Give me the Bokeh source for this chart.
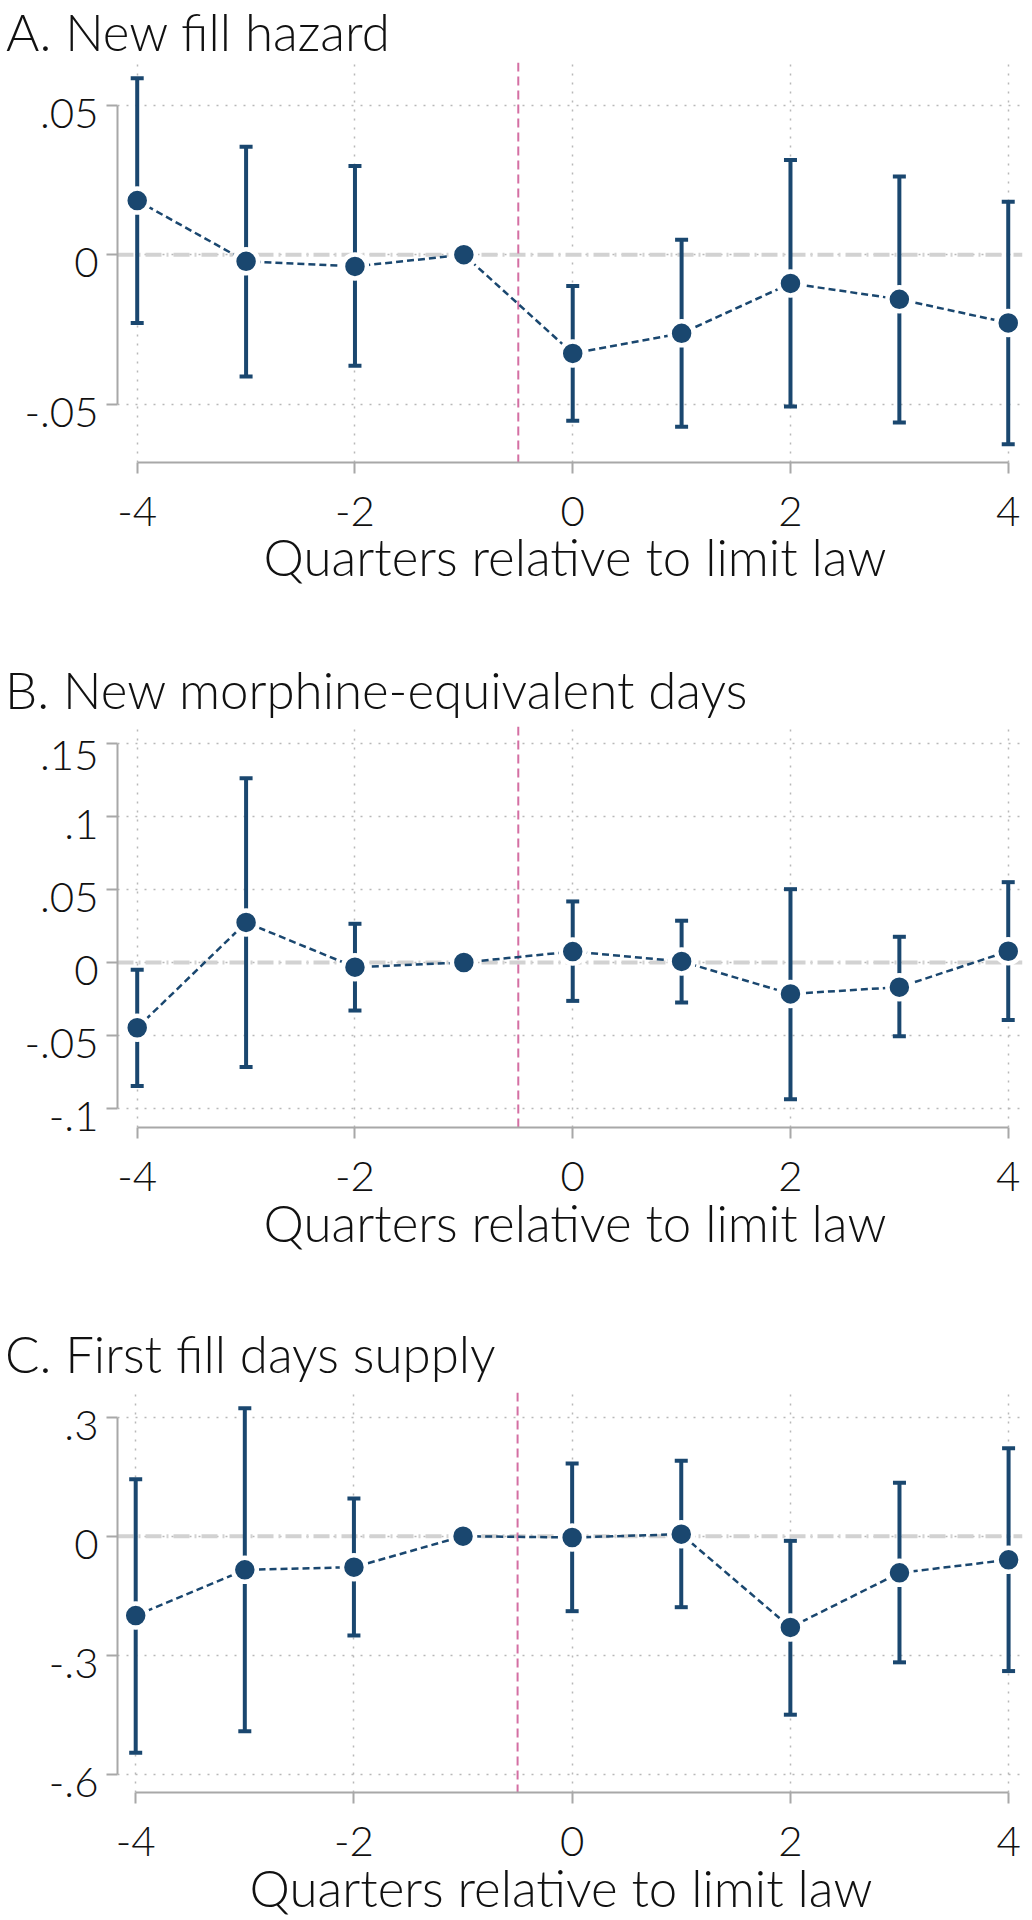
from bokeh.plotting import figure
from bokeh.models import Span, FixedTicker, ColumnDataSource, Div
from bokeh.layouts import column
from bokeh.embed import file_html
from bokeh.resources import INLINE

nan = float("nan")

quarters = [-4, -3, -2, -1, 0, 1, 2, 3, 4]
x_ticks = [-4, -2, 0, 2, 4]
x_tick_labels = ["-4", "-2", "0", "2", "4"]
x_title = "Quarters relative to limit law"

titles = ["A. New fill hazard", "B. New morphine-equivalent days", "C. First fill days supply"]

a_est = [0.0181, -0.0022, -0.0039, 0.0, -0.0330, -0.0263, -0.0096, -0.0149, -0.0228]
a_lo = [-0.0228, -0.0407, -0.0371, nan, -0.0555, -0.0575, -0.0508, -0.0561, -0.0634]
a_hi = [0.0590, 0.0361, 0.0297, nan, -0.0105, 0.0050, 0.0317, 0.0262, 0.0177]
a_yticks = [-0.05, 0, 0.05]
a_ylabels = ["-.05", "0", ".05"]

b_est = [-0.0447, 0.0274, -0.0032, 0.0, 0.0075, 0.0007, -0.0215, -0.0169, 0.0077]
b_lo = [-0.0845, -0.0715, -0.0329, nan, -0.0263, -0.0274, -0.0936, -0.0505, -0.0393]
b_hi = [-0.0050, 0.1262, 0.0265, nan, 0.0418, 0.0286, 0.0502, 0.0176, 0.0550]
b_yticks = [-0.1, -0.05, 0, 0.05, 0.1, 0.15]
b_ylabels = ["-.1", "-.05", "0", ".05", ".1", ".15"]

c_est = [-0.200, -0.0848, -0.0781, 0.0, -0.0033, 0.0050, -0.230, -0.0924, -0.0596]
c_lo = [-0.546, -0.4915, -0.2503, nan, -0.189, -0.179, -0.450, -0.318, -0.340]
c_hi = [0.1437, 0.3227, 0.0950, nan, 0.1833, 0.190, -0.0117, 0.1345, 0.2218]
c_yticks = [-0.6, -0.3, 0, 0.3]
c_ylabels = ["-.6", "-.3", "0", ".3"]

NAVY = "#1a476f"
AXIS = "#a8a8a8"
FONT = "Lato Light"
W = 1032


def text_div(text, height, line_h, pad_left, align="left"):
    html = (
        f'<div style="width:{W}px; box-sizing:border-box; padding-left:{pad_left}px; '
        f"font-family:'Lato Light', Lato, sans-serif; font-size:51px; "
        f'line-height:{line_h}px; color:#111111; white-space:nowrap; '
        f'text-align:{align}; margin:0;">{text}</div>'
    )
    return Div(text=html, width=W, height=height, margin=(0, 0, 0, 0))


def panel(est, lo, hi, yticks, ylabels, height, top, left, frame_h, xr, yr):
    p = figure(width=W, height=height, x_range=xr, y_range=yr,
               output_backend="svg", toolbar_location=None, title=None,
               min_border_left=left, min_border_right=10, min_border_top=top,
               min_border_bottom=height - top - frame_h, margin=(0, 0, 0, 0))
    p.outline_line_color = None
    p.background_fill_color = None
    p.border_fill_color = None

    p.xaxis.ticker = FixedTicker(ticks=x_ticks)
    p.xaxis.major_label_overrides = dict(zip(x_ticks, x_tick_labels))
    p.xaxis.bounds = (min(x_ticks), max(x_ticks))
    p.yaxis.ticker = FixedTicker(ticks=yticks)
    # leading empty line with a tight line height drops each label a few px,
    # as in the reference
    p.yaxis.major_label_overrides = {t: "\n" + s for t, s in zip(yticks, ylabels)}
    p.yaxis.major_label_text_line_height = 0.26
    p.yaxis.bounds = (min(yticks), max(yticks))
    for ax in (p.xaxis[0], p.yaxis[0]):
        ax.axis_line_color = AXIS
        ax.axis_line_width = 2
        ax.major_tick_line_color = AXIS
        ax.major_tick_line_width = 2
        ax.major_tick_out = 11
        ax.major_tick_in = 0
        ax.minor_tick_out = 0
        ax.minor_tick_in = 0
        ax.major_label_text_font = FONT
        ax.major_label_text_font_size = "42px"
        ax.major_label_text_color = "#111111"
    p.yaxis.major_label_standoff = 8
    p.xaxis.major_label_standoff = 23

    p.grid.grid_line_color = "#b8b8b8"
    p.grid.grid_line_width = 1.5
    p.grid.grid_line_dash = "2 7"

    p.add_layout(Span(location=0, dimension="width", line_color="#d2d2d2",
                      line_width=4, line_dash="16 5 2 5", level="underlay"))
    p.add_layout(Span(location=-0.5, dimension="height", line_color="#d46fa3",
                      line_width=2, line_dash="9 5", level="underlay"))

    src = ColumnDataSource(dict(q=quarters, est=est, lo=lo, hi=hi))
    p.segment(x0="q", y0="lo", x1="q", y1="hi", source=src,
              line_color=NAVY, line_width=4)
    p.scatter(x="q", y="lo", source=src, marker="dash", size=13,
              line_color=NAVY, line_width=4)
    p.scatter(x="q", y="hi", source=src, marker="dash", size=13,
              line_color=NAVY, line_width=4)
    p.line(x="q", y="est", source=src, line_color=NAVY, line_width=2.5,
           line_dash="7 4")
    p.scatter(x="q", y="est", source=src, marker="circle", size=24,
              fill_color=NAVY, line_color="white", line_width=4.5)
    return p


t_a = text_div(titles[0], 48, 63, 6)
f_a = panel(a_est, a_lo, a_hi, a_yticks, a_ylabels, 504, 14, 117, 400,
            (-4.181, 4.131), (-0.0695, 0.0643))
x_a = text_div(x_title, 133, 10, 118, "center")

t_b = text_div(titles[1], 30, 10, 5)
f_b = panel(b_est, b_lo, b_hi, b_yticks, b_ylabels, 503, 11, 117, 401,
            (-4.181, 4.131), (-0.1130, 0.1616))
x_b = text_div(x_title, 131, 10, 118, "center")

t_c = text_div(titles[2], 30, 10, 5)
f_c = panel(c_est, c_lo, c_hi, c_yticks, c_ylabels, 504, 13, 92, 400,
            (-4.1668, 4.1275), (-0.6461, 0.3622))
x_c = text_div(x_title, 30, 10, 90, "center")

layout = column(t_a, f_a, x_a, t_b, f_b, x_b, t_c, f_c, x_c, spacing=0)
open("out.html", "w").write(file_html(layout, INLINE))
